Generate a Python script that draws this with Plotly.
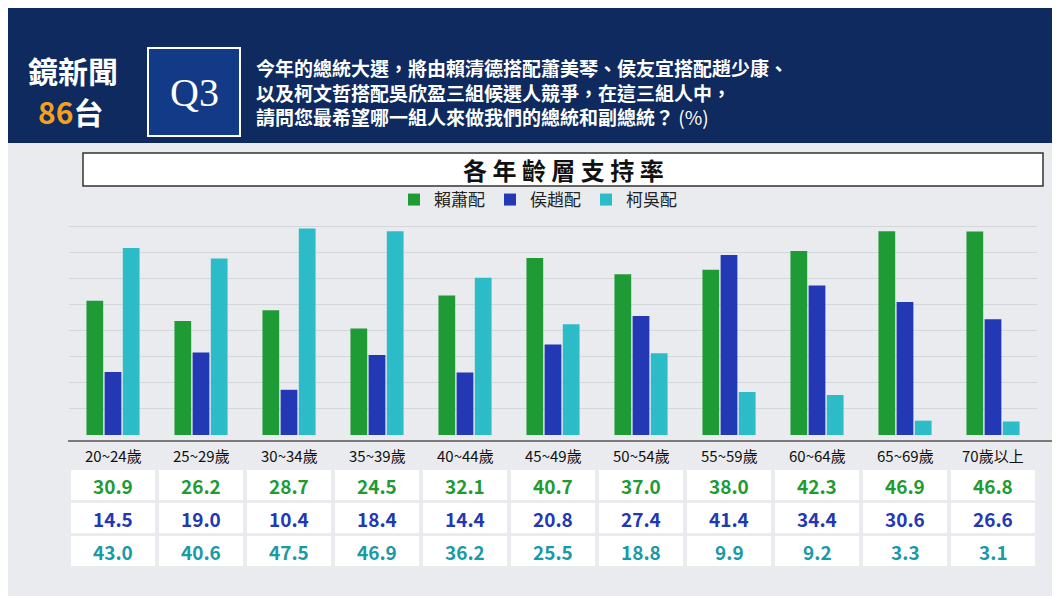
import plotly.graph_objects as go

ages = ["20~24歲", "25~29歲", "30~34歲", "35~39歲", "40~44歲", "45~49歲",
        "50~54歲", "55~59歲", "60~64歲", "65~69歲", "70歲以上"]
lai_hsiao = [30.9, 26.2, 28.7, 24.5, 32.1, 40.7, 37.0, 38.0, 42.3, 46.9, 46.8]
hou_chao = [14.5, 19.0, 10.4, 18.4, 14.4, 20.8, 27.4, 41.4, 34.4, 30.6, 26.6]
ko_wu = [43.0, 40.6, 47.5, 46.9, 36.2, 25.5, 18.8, 9.9, 9.2, 3.3, 3.1]

names = ["賴蕭配", "侯趙配", "柯吳配"]
colors = ["#1f9b35", "#2238b4", "#2bbcc8"]
txt_colors = ["#1f9b35", "#2238b4", "#1a9aa6"]
series = [lai_hsiao, hou_chao, ko_wu]

W, H = 1060, 596
def py(p):  # pixel y -> paper
    return 1 - p / H
def px(p):
    return p / W

fig = go.Figure()
for n, v, c in zip(names, series, colors):
    fig.add_bar(x=ages, y=v, name=n, marker=dict(color=c, line=dict(width=0)))

x0, x1 = 61, 1029
colw = (x1 - x0) / len(ages)
shapes = [
    dict(type="rect", xref="paper", yref="paper", x0=0, x1=1, y0=py(135), y1=1,
         fillcolor="#0e2a5e", line_width=0, layer="below"),
    dict(type="rect", xref="paper", yref="paper", x0=0, x1=1, y0=0, y1=py(135),
         fillcolor="#e9ebee", line_width=0, layer="below"),
    dict(type="rect", xref="paper", yref="paper", x0=px(140), x1=px(232), y0=py(128), y1=py(40),
         fillcolor="#123a86", line=dict(color="white", width=2)),
    dict(type="rect", xref="paper", yref="paper", x0=px(75), x1=px(1035), y0=py(178), y1=py(145),
         fillcolor="white", line=dict(color="#333", width=1.5), layer="below"),
    dict(type="line", xref="paper", yref="paper", x0=px(60), x1=px(1060), y0=py(433), y1=py(433),
         line=dict(color="#555", width=1.5)),
]
ann = [
    dict(x=px(65), y=py(62), text="<b>鏡新聞</b>", font=dict(size=30, color="white")),
    dict(x=px(62), y=py(103), text="<b><span style='color:#f4a21d'>86</span>台</b>",
         font=dict(size=30, color="white")),
    dict(x=px(186), y=py(84), text="Q3", font=dict(size=40, color="white", family="Liberation Serif")),
    dict(x=px(246), y=py(84), xanchor="left", align="left",
         text="<b>今年的總統大選，將由賴清德搭配蕭美琴、侯友宜搭配趙少康、<br>"
              "以及柯文哲搭配吳欣盈三組候選人競爭，在這三組人中，<br>"
              "請問您最希望哪一組人來做我們的總統和副總統？</b> (%)",
         font=dict(size=19, color="white")),
    dict(x=px(555), y=py(161), text="<b>各 年 齡 層 支 持 率</b>", font=dict(size=24, color="#111")),
]
for i, a in enumerate(ages):
    cx = x0 + colw * (i + 0.5)
    ann.append(dict(x=px(cx), y=py(447), text=a, font=dict(size=15, color="#111")))
    for r, (vals, tc) in enumerate(zip(series, txt_colors)):
        top = 462 + r * 33
        shapes.append(dict(type="rect", xref="paper", yref="paper",
                           x0=px(x0 + colw * i + 2), x1=px(x0 + colw * (i + 1) - 2),
                           y0=py(top + 30), y1=py(top), fillcolor="white", line_width=0))
        ann.append(dict(x=px(cx), y=py(top + 15), text=f"<b>{vals[i]:.1f}</b>",
                        font=dict(size=19, color=tc)))
for a in ann:
    a.update(xref="paper", yref="paper", showarrow=False, yanchor="middle")
    a.setdefault("xanchor", "center")

fig.update_layout(
    width=W, height=H, margin=dict(l=0, r=0, t=0, b=0),
    paper_bgcolor="#e9ebee", plot_bgcolor="#e9ebee",
    font=dict(family="Noto Sans CJK TC"),
    barmode="group", bargap=0.38, bargroupgap=0.08,
    xaxis=dict(domain=[px(x0), px(x1)], showticklabels=False, showline=False),
    yaxis=dict(domain=[py(427), py(214)], range=[0, 49], showticklabels=False,
               showgrid=True, gridcolor="#d3d6da", dtick=6, zeroline=False),
    legend=dict(orientation="h", x=0.5, xanchor="center", y=py(192), yanchor="middle",
                font=dict(size=17, color="#222"), bgcolor="rgba(0,0,0,0)"),
    shapes=shapes, annotations=ann,
)
fig.write_html("out.html")
